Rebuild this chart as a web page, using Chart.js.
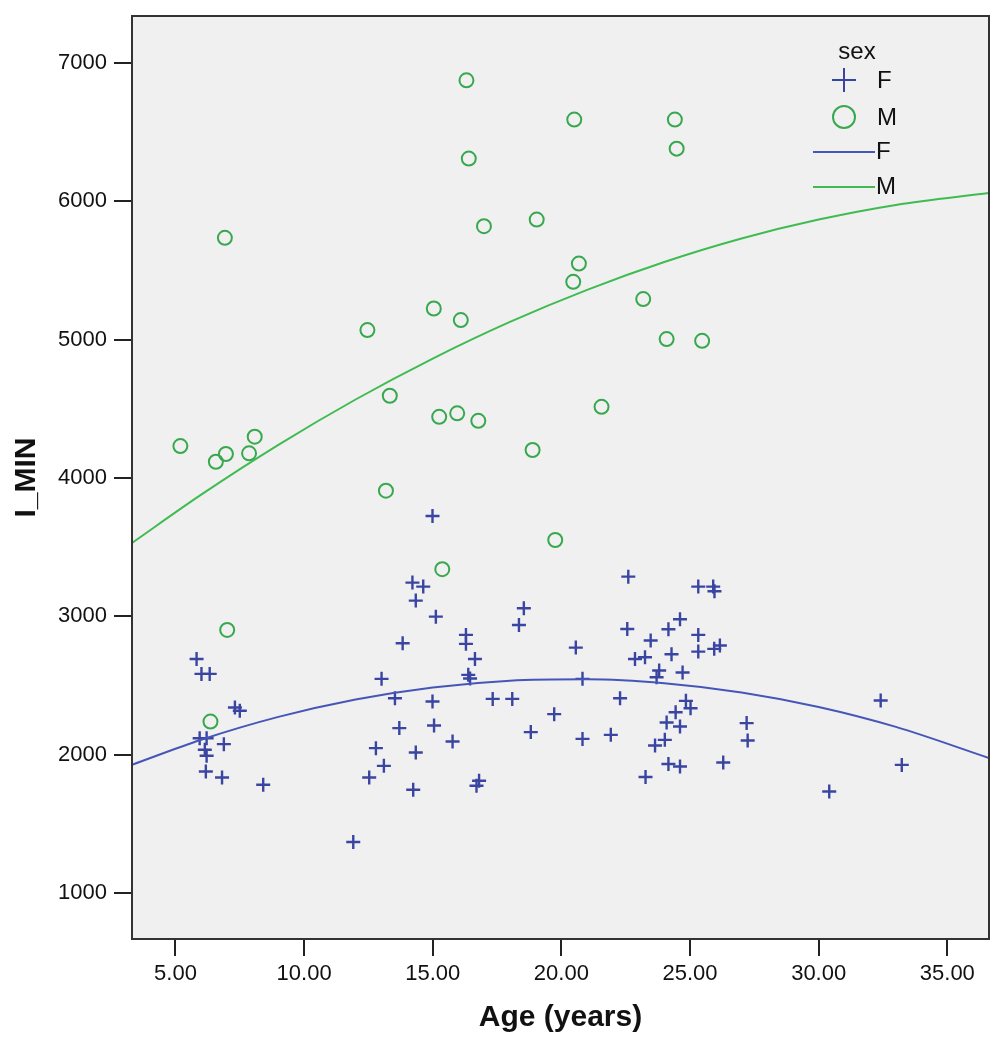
<!DOCTYPE html>
<html>
<head>
<meta charset="utf-8">
<title>I_MIN by age</title>
<script src="https://cdn.jsdelivr.net/npm/chart.js@4.4.1/dist/chart.umd.min.js"></script>
<style>
	body { margin: 0; background: #ffffff; }
	#wrap { width: 1002px; height: 1050px; }
</style>
</head>
<body>
<div id="wrap"><canvas id="myCanvas" width="1002" height="1050"></canvas></div>
<script>
// ---- data ----
var ageF = [14.99, 14.21, 14.63, 14.34, 15.12, 13.83, 13.01, 13.53, 14.99, 13.70, 15.05, 15.77, 12.79, 14.34, 13.10, 12.53, 14.24, 11.91,
	5.82, 6.01, 6.33, 7.31, 7.50, 5.94, 6.21, 6.88, 6.14, 6.21, 6.18, 6.81, 8.41,
	22.60, 25.32, 25.90, 25.95, 18.54, 18.35, 24.61, 22.56, 24.16, 16.29, 16.29, 23.47, 25.32, 25.32, 20.56, 25.94, 26.16, 16.64,
	22.86, 23.25, 24.28, 23.80, 23.70, 24.71, 16.38, 16.45, 20.82, 17.33, 18.09, 22.28, 24.84, 25.02, 24.44, 24.09, 24.61, 27.20,
	27.24, 19.72, 18.81, 20.82, 21.92, 24.02, 23.64, 24.16, 24.61, 26.29, 23.27, 16.80, 16.70,
	32.41, 33.23, 30.41];
var iminF = [3725, 3243, 3214, 3113, 2997, 2805, 2547, 2407, 2383, 2191, 2210, 2094, 2046, 2015, 1918, 1834, 1745, 1367,
	2691, 2583, 2583, 2340, 2316, 2118, 2118, 2075, 2034, 1991, 1877, 1834, 1781,
	3286, 3214, 3214, 3180, 3058, 2937, 2978, 2908, 2906, 2865, 2800, 2824, 2865, 2744, 2773, 2764, 2788, 2691,
	2691, 2703, 2725, 2607, 2559, 2593, 2576, 2550, 2547, 2402, 2402, 2407, 2388, 2335, 2306, 2231, 2202, 2227,
	2101, 2292, 2162, 2113, 2142, 2106, 2065, 1931, 1913, 1942, 1837, 1810, 1774,
	2390, 1925, 1733];

var ageM = [16.31, 16.40, 16.99, 6.92, 15.04, 16.09, 12.46, 13.33, 15.25, 15.95, 16.77, 5.19, 8.08, 6.96, 6.57, 7.86,
	20.50, 24.41, 24.48, 19.04, 20.68, 20.46, 23.18, 24.09, 25.47, 21.56, 18.88, 13.18, 15.37, 7.01, 6.36, 19.76];
var iminM = [6875, 6309, 5820, 5736, 5225, 5141, 5069, 4594, 4442, 4467, 4413, 4230, 4298, 4173, 4117, 4178,
	6591, 6591, 6381, 5868, 5550, 5418, 5293, 5004, 4991, 4514, 4202, 3908, 3340, 2901, 2238, 3551];

// fit curves, sampled along the drawn lines
var fitAge = [3.31, 6, 9, 12, 15, 18, 21, 24, 27, 30, 33, 36.62];
var fitF   = [1926, 2107, 2272, 2398, 2485, 2534, 2544, 2516, 2449, 2344, 2200, 1975];
var fitM   = [3530, 3879, 4239, 4567, 4863, 5128, 5360, 5561, 5731, 5868, 5974, 6060];

var xTicks = [5, 10, 15, 20, 25, 30, 35];
var yTicks = [1000, 2000, 3000, 4000, 5000, 6000, 7000];

var colF = '#3a45a2';
var colM = '#38a84e';
var lineF = '#4656b8';
var lineM = '#40bb52';
var FONT = "'Liberation Sans', Arial, sans-serif";

function pairs(xs, ys){
	var out = [];
	for (var i = 0; i < xs.length; i++) {
		out.push({x: xs[i], y: ys[i]});
	}
	return out;
}

// grey plot area + frame + the legend in the top right corner
var framePlugin = {
	id: 'frame',
	beforeDatasetsDraw: function(chart){
		var a = chart.chartArea, ctx = chart.ctx;
		ctx.save();
		ctx.fillStyle = '#f0f0f0';
		ctx.fillRect(a.left, a.top, a.right - a.left, a.bottom - a.top);
		ctx.restore();
	},
	afterDraw: function(chart){
		var a = chart.chartArea, ctx = chart.ctx;
		ctx.save();
		ctx.strokeStyle = '#333333';
		ctx.lineWidth = 2;
		ctx.strokeRect(a.left, a.top, a.right - a.left, a.bottom - a.top);

		// legend
		ctx.fillStyle = '#111111';
		ctx.font = '24px ' + FONT;
		ctx.textBaseline = 'middle';
		ctx.textAlign = 'center';
		ctx.fillText('sex', 857, 52);
		ctx.textAlign = 'left';

		ctx.strokeStyle = colF;
		ctx.lineWidth = 2;
		ctx.beginPath();
		ctx.moveTo(832, 80); ctx.lineTo(856, 80);
		ctx.moveTo(844, 68); ctx.lineTo(844, 92);
		ctx.stroke();
		ctx.fillText('F', 877, 81);

		ctx.strokeStyle = colM;
		ctx.beginPath();
		ctx.arc(844, 117, 11, 0, Math.PI * 2);
		ctx.stroke();
		ctx.fillText('M', 877, 118);

		ctx.strokeStyle = lineF;
		ctx.beginPath();
		ctx.moveTo(813, 152); ctx.lineTo(875, 152);
		ctx.stroke();
		ctx.fillText('F', 876, 152);

		ctx.strokeStyle = lineM;
		ctx.beginPath();
		ctx.moveTo(813, 187); ctx.lineTo(875, 187);
		ctx.stroke();
		ctx.fillText('M', 876, 187);
		ctx.restore();
	}
};

var ctx = document.getElementById('myCanvas').getContext('2d');
var myChart = new Chart(ctx, {
	type: 'scatter',
	data: {
		datasets: [{
			label: 'F',
			data: pairs(ageF, iminF),
			pointStyle: 'cross',
			pointRadius: 7,
			borderColor: colF,
			backgroundColor: colF,
			pointBorderWidth: 2.4,
			order: 3
		}, {
			label: 'M',
			data: pairs(ageM, iminM),
			pointStyle: 'circle',
			pointRadius: 7,
			borderColor: colM,
			backgroundColor: 'rgba(0,0,0,0)',
			pointBorderWidth: 2,
			order: 2
		}, {
			type: 'line',
			label: 'F fit',
			data: pairs(fitAge, fitF),
			borderColor: lineF,
			borderWidth: 2,
			pointRadius: 0,
			showLine: true,
			cubicInterpolationMode: 'monotone',
			order: 1
		}, {
			type: 'line',
			label: 'M fit',
			data: pairs(fitAge, fitM),
			borderColor: lineM,
			borderWidth: 2,
			pointRadius: 0,
			showLine: true,
			cubicInterpolationMode: 'monotone',
			order: 0
		}]
	},
	options: {
		responsive: false,
		animation: false,
		layout: { padding: { left: 0, top: 16, right: 13, bottom: 0 } },
		plugins: {
			legend: { display: false },
			tooltip: { enabled: false }
		},
		scales: {
			x: {
				type: 'linear',
				min: 3.31,
				max: 36.62,
				afterBuildTicks: function(scale){
					scale.ticks = xTicks.map(function(v){ return {value: v}; });
				},
				afterFit: function(scale){
					scale.height = 111;
					scale.paddingLeft = 0;
					scale.paddingRight = 0;
				},
				border: { display: false },
				grid: { drawOnChartArea: false, color: '#222222', lineWidth: 2, tickLength: 17 },
				ticks: {
					color: '#111111',
					font: { family: FONT, size: 22 },
					padding: 5,
					maxRotation: 0,
					callback: function(v){ return v.toFixed(2); }
				},
				title: {
					display: true,
					text: 'Age (years)',
					color: '#111111',
					font: { family: FONT, size: 30, weight: 'bold' },
					padding: { top: 0, bottom: 14 }
				}
			},
			y: {
				type: 'linear',
				min: 666,
				max: 7340,
				afterBuildTicks: function(scale){
					scale.ticks = yTicks.map(function(v){ return {value: v}; });
				},
				afterFit: function(scale){
					scale.width = 132;
					scale.paddingTop = 0;
					scale.paddingBottom = 0;
				},
				border: { display: false },
				grid: { drawOnChartArea: false, color: '#222222', lineWidth: 2, tickLength: 18 },
				ticks: {
					color: '#111111',
					font: { family: FONT, size: 22 },
					padding: 7,
					callback: function(v){ return String(v); }
				},
				title: {
					display: true,
					text: 'I_MIN',
					color: '#111111',
					font: { family: FONT, size: 30, weight: 'bold' },
					padding: { top: 9, bottom: 0 }
				}
			}
		}
	},
	plugins: [framePlugin]
});
</script>
</body>
</html>
